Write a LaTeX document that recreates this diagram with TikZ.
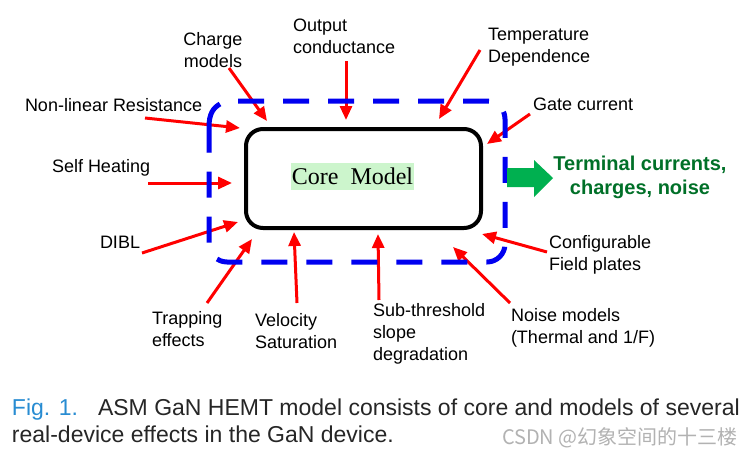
\documentclass[tikz,border=0pt]{standalone}
\usepackage{fontspec}
\setmainfont{Liberation Sans}
\newfontfamily\corefont{Liberation Serif}
\newfontfamily\cjkfont{Noto Sans CJK SC}
\usetikzlibrary{arrows.meta}
\definecolor{arrowred}{RGB}{255,0,0}
\definecolor{dashblue}{RGB}{0,0,240}
\definecolor{outgreen}{RGB}{0,176,80}
\definecolor{termgreen}{RGB}{0,112,40}
\definecolor{corefill}{RGB}{204,245,204}
\definecolor{figblue}{RGB}{40,140,210}
\begin{document}
\begin{tikzpicture}[x=1pt, y=-1pt, inner sep=0pt, outer sep=0pt,
	lbl/.style={font=\fontsize{18}{22}\selectfont, align=left, anchor=west},
	effect/.style={draw=arrowred, line width=3pt, -{Triangle[length=14pt,width=12pt]}}]
			\useasboundingbox[fill=white] (0,0) rectangle (750,455);
			\node[lbl, align=center, anchor=center] (text01) at (213,50) {Charge\\models};
			\node[lbl] (text02) at (293,36) {Output\\conductance};
			\node[lbl] (text03) at (488,47) {Temperature\\Dependence};
			\node[lbl] (text04) at (25,105) {Non-linear Resistance};
			\node[lbl] (text05) at (533,104) {Gate current};
			\node[lbl] (text06) at (52,168) {Self Heating};
			\node[lbl] (text07) at (100,242) {DIBL};
			\node[lbl] (text08) at (549,255) {Configurable\\Field plates};
			\node[lbl] (text09) at (152,329) {Trapping\\effects};
			\node[lbl] (text10) at (255,331) {Velocity\\Saturation};
			\node[lbl] (text11) at (373,334) {Sub-threshold\\slope\\degradation};
			\node[lbl] (text12) at (511,328) {Noise models\\(Thermal and 1/F)};
			\coordinate (p01a) at (229,68);  \coordinate (p01b) at (267,121);
			\coordinate (p02a) at (346,61);  \coordinate (p02b) at (346,120);
			\coordinate (p03a) at (480,50);  \coordinate (p03b) at (439,119);
			\coordinate (p04a) at (145,118); \coordinate (p04b) at (240,128);
			\coordinate (p05a) at (530,114); \coordinate (p05b) at (487,144);
			\coordinate (p06a) at (148,183); \coordinate (p06b) at (232,183);
			\coordinate (p07a) at (142,253); \coordinate (p07b) at (238,222);
			\coordinate (p08a) at (547,252); \coordinate (p08b) at (482,234);
			\coordinate (p09a) at (207,303); \coordinate (p09b) at (252,239);
			\coordinate (p10a) at (297,303); \coordinate (p10b) at (294,232);
			\coordinate (p11a) at (379,300); \coordinate (p11b) at (378,234);
			\coordinate (p12a) at (510,303); \coordinate (p12b) at (453,247);
			\path[effect] (p01a) -- (p01b);
			\path[effect] (p02a) -- (p02b);
			\path[effect] (p03a) -- (p03b);
			\path[effect] (p04a) -- (p04b);
			\path[effect] (p05a) -- (p05b);
			\path[effect] (p06a) -- (p06b);
			\path[effect] (p07a) -- (p07b);
			\path[effect] (p08a) -- (p08b);
			\path[effect] (p09a) -- (p09b);
			\path[effect] (p10a) -- (p10b);
			\path[effect] (p11a) -- (p11b);
			\path[effect] (p12a) -- (p12b);
			\path[draw=dashblue, line width=5pt, dash pattern=on 26pt off 19pt, rounded corners=18pt] 
				(238,101) -- (505,101) -- (505,262) -- (209,262) -- (209,152); % real-device effects
			\path[draw=dashblue, line width=5pt] (209,152) -- (209,127) 
				.. controls (209,114) and (213,108) .. (220,104);
			\node[draw=black, line width=4pt, rounded corners=17pt, minimum width=235pt, 
				minimum height=99pt] (core) at (363.5,178.5) {};
			\node[fill=corefill, minimum width=123pt, minimum height=27pt, 
				font=\corefont\fontsize{24}{28}\selectfont] (coretext) at (352.5,176.5) {Core\ \ Model};
			\path[fill=outgreen] (507,168) -- (534,168) -- (534,160) -- (553,178) -- (534,197) 
				-- (534,187) -- (507,187) -- cycle;
			\node[font=\bfseries\fontsize{20}{24}\selectfont, text=termgreen, align=center] 
				(term) at (640,177.5) {Terminal currents,\\charges, noise};
			\node[anchor=base west, font=\fontsize{23}{27}\selectfont, text=black!85] (cap1) 
				at (12,415) {\textcolor{figblue}{Fig. 1.}\hspace{20pt}ASM GaN HEMT model consists of core and models of several};
			\node[anchor=base west, font=\fontsize{23}{27}\selectfont, text=black!85] (cap2) 
				at (12,442) {real-device effects in the GaN device.};
			\node[anchor=base west, font=\cjkfont\fontsize{20}{22}\selectfont, text=black!30] (mark) 
				at (502,444) {CSDN @幻象空间的十三楼};
		\end{tikzpicture}
\end{document}
